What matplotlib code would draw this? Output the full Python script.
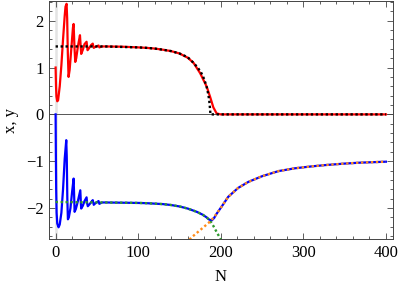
import matplotlib
matplotlib.use("Agg")
import matplotlib.pyplot as plt
from matplotlib.ticker import MultipleLocator

plt.rcParams['font.family'] = ['Liberation Serif', 'DejaVu Serif']
plt.rcParams['font.size'] = 12

# x(N): red solid curve
n_x = [0, 0.5, 1, 2, 3, 5, 7, 9, 11, 12, 13.3, 14, 14.8, 15.7, 17, 19, 21, 21.8,
       22.8, 23.8, 25, 27, 29.5, 30.2, 31, 33, 35, 37.5, 38.1, 38.7, 40, 43, 45,
       45.6, 46.2, 48, 52, 53, 56, 60, 80, 100, 110, 120, 130, 140, 150, 160,
       167, 175, 180, 183, 187, 191, 195, 200, 250, 300, 350, 400]
x_vals = [1.0, 0.6, 0.38, 0.28, 0.3, 0.6, 1.05, 1.6, 2.1, 2.3, 2.36, 2.05, 1.3, 0.8,
          0.95, 1.4, 1.85, 1.93, 1.45, 1.12, 1.2, 1.45, 1.69, 1.5, 1.29, 1.38,
          1.5, 1.55, 1.46, 1.37, 1.4, 1.48, 1.51, 1.46, 1.42, 1.44, 1.47, 1.43,
          1.45, 1.45, 1.445, 1.43, 1.42, 1.405, 1.38, 1.35, 1.30, 1.21, 1.10,
          0.88, 0.70, 0.59, 0.38, 0.15, 0.02, 0.0, 0.0, 0.0, 0.0, 0.0]

# x approximation: black dotted
n_xa = [0, 60, 100, 110, 120, 130, 140, 150, 160, 167, 172, 176, 180, 183,
        185, 186, 187, 187.5, 250, 300, 350, 400]
xa_vals = [1.45, 1.45, 1.43, 1.42, 1.405, 1.38, 1.35, 1.30, 1.22, 1.10, 1.0,
           0.90, 0.75, 0.58, 0.42, 0.30, 0.12, 0.0, 0.0, 0.0, 0.0, 0.0]

# y(N): blue solid curve
n_y = [0, 0.3, 0.7, 1.2, 2, 3.6, 5, 7, 9, 11, 12.9, 13.5, 14.2, 14.9, 16, 18,
       20, 21.8, 22.4, 23, 24.5, 27, 29.9, 30.5, 31, 33, 35, 37.5, 38.2, 39,
       41, 45, 45.6, 46.2, 48, 52, 53, 56, 60, 80, 100, 110, 120, 130, 140,
       150, 160, 171, 178, 183, 186, 189, 192, 195, 201, 209, 221, 233.5, 250,
       270, 290, 310, 328, 350, 369, 400]
y_vals = [0.0, -0.8, -1.6, -2.1, -2.33, -2.41, -2.35, -2.1, -1.6, -0.95, -0.55,
          -0.9, -1.8, -2.24, -2.2, -2.0, -1.65, -1.37, -1.7, -2.08, -2.02,
          -1.85, -1.62, -1.85, -2.01, -1.95, -1.85, -1.77, -1.9, -1.96, -1.92,
          -1.83, -1.88, -1.93, -1.90, -1.85, -1.91, -1.88, -1.88, -1.885,
          -1.89, -1.895, -1.905, -1.915, -1.935, -1.965, -2.01, -2.08, -2.14,
          -2.20, -2.245, -2.265, -2.21, -2.12, -1.97, -1.76, -1.57, -1.44, -1.32,
          -1.21, -1.15, -1.11, -1.08, -1.05, -1.03, -1.01]

# y approximation before the transition: green dotted
n_yl = [0, 60, 80, 100, 110, 120, 130, 140, 150, 160, 171, 178, 183, 187, 191,
        195, 201]
yl_vals = [-1.87, -1.88, -1.885, -1.89, -1.895, -1.905, -1.915, -1.935, -1.965,
           -2.01, -2.08, -2.14, -2.20, -2.27, -2.38, -2.51, -2.70]

# y approximation after the transition: orange dotted
n_yr = [158, 165, 175, 185, 191, 195, 201, 209, 221, 233.5, 250, 270, 290,
        310, 328, 350, 369, 400]
yr_vals = [-2.75, -2.62, -2.47, -2.32, -2.21, -2.12, -1.97, -1.76, -1.57,
           -1.44, -1.32, -1.21, -1.15, -1.11, -1.08, -1.05, -1.03, -1.01]

fig = plt.figure(figsize=(3.99, 2.87), dpi=100)
ax = fig.add_axes([0.1228, 0.1672, 0.861, 0.8293])

ax.axhline(0, color='#555555', lw=0.7, zorder=1)
ax.axvline(0, color='#e4e4e4', lw=1.8, zorder=0)

ax.plot(n_x, x_vals, color='red', lw=1.6, zorder=2)
ax.plot(n_y, y_vals, color='blue', lw=1.6, zorder=2)
ax.plot(n_xa, xa_vals, color='black', lw=1.7, linestyle=(0, (1, 1.1)), zorder=3)
ax.plot(n_yl, yl_vals, color='#2e9a2e', lw=1.7, linestyle=(0, (1, 1.1)), zorder=3)
ax.plot(n_yr, yr_vals, color='#ff8c1a', lw=1.7, linestyle=(0, (1, 1.1)), zorder=3)

ax.set_xlim(-8, 408)
ax.set_ylim(-2.66, 2.42)

ax.xaxis.set_major_locator(MultipleLocator(100))
ax.xaxis.set_minor_locator(MultipleLocator(20))
ax.yaxis.set_major_locator(MultipleLocator(1))
ax.yaxis.set_minor_locator(MultipleLocator(0.2))
ax.tick_params(which='both', direction='in', top=True, right=True,
               labeltop=False, labelright=False, color='#444444', width=0.6)
ax.tick_params(which='major', length=4.5, pad=4)
ax.tick_params(which='minor', length=2.5)
for s in ax.spines.values():
    s.set_color('#444444')
    s.set_linewidth(0.7)

ax.set_xlabel('N', labelpad=6)
ax.set_ylabel('x, y', labelpad=5)

fig.savefig('out.png', dpi=100)
